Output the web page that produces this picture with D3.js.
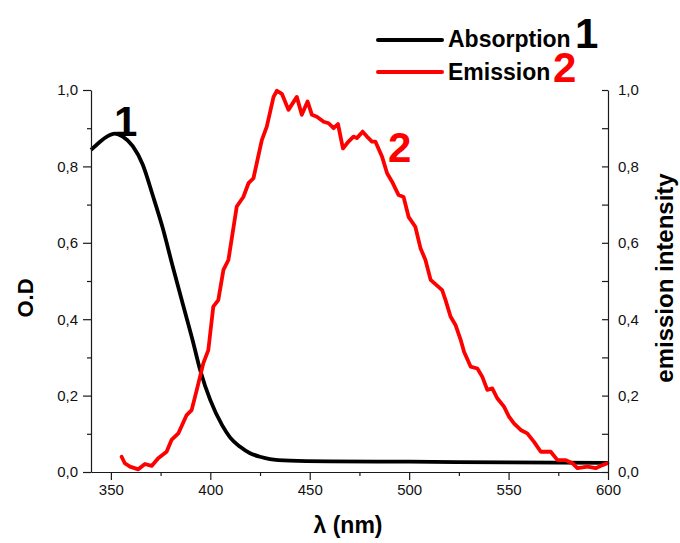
<!DOCTYPE html>
<html>
<head>
<meta charset="utf-8">
<script src="https://cdn.jsdelivr.net/npm/d3@7"></script>
<style>
  html, body { margin: 0; padding: 0; background: #fff; }
  svg { display: block; font-family: "Liberation Sans", Arial, sans-serif; }
</style>
</head>
<body>
<svg id="chart" width="680" height="543"></svg>
<script>
// ---- data ----
const absWavelength = [340, 344, 348, 352, 356, 361, 366, 371, 376, 381, 386, 391, 395, 400, 406, 410, 415, 420, 425, 430, 440, 460, 500, 550, 600];
const absValue      = [0.843, 0.862, 0.878, 0.886, 0.878, 0.853, 0.805, 0.725, 0.640, 0.540, 0.443, 0.347, 0.265, 0.188, 0.122, 0.090, 0.066, 0.049, 0.040, 0.034, 0.030, 0.028, 0.027, 0.025, 0.024];

const emWavelength = [355.4, 357, 359.6, 363.8, 367.1, 370.5, 373.8, 378, 380.5, 383.9, 388.1, 390.6, 393.2, 396.5, 399, 401.5, 404, 406.6, 409.1, 413.3, 416.6, 419.2, 421.7, 425.9, 428.4, 431.8, 433.5, 436, 439.3, 443.5, 446, 448.9, 451.1, 453.6, 457, 459.5, 462, 464.2, 466.7, 469.5, 472, 473.7, 476.6, 478.8, 481.3, 483, 486.4, 488.9, 491.4, 494.7, 497.2, 499.7, 503.1, 505.7, 508.2, 510.8, 513.2, 516.6, 518.3, 520.8, 523.3, 525.9, 527.6, 530.9, 534.3, 536.8, 539.3, 541.8, 544.3, 547.7, 550.2, 552.7, 556.1, 559.4, 562.8, 566.2, 571.2, 574.6, 578.8, 582.1, 584.6, 589.7, 593.8, 597.2, 599.7];
const emValue      = [0.040, 0.023, 0.014, 0.007, 0.021, 0.016, 0.036, 0.053, 0.084, 0.101, 0.149, 0.162, 0.215, 0.285, 0.319, 0.433, 0.450, 0.529, 0.555, 0.695, 0.720, 0.756, 0.769, 0.869, 0.904, 0.982, 0.998, 0.990, 0.948, 0.982, 0.935, 0.970, 0.935, 0.930, 0.917, 0.913, 0.900, 0.911, 0.847, 0.865, 0.878, 0.874, 0.891, 0.878, 0.865, 0.865, 0.825, 0.782, 0.760, 0.725, 0.720, 0.668, 0.642, 0.586, 0.555, 0.503, 0.492, 0.476, 0.450, 0.407, 0.385, 0.346, 0.315, 0.276, 0.271, 0.249, 0.215, 0.219, 0.193, 0.171, 0.145, 0.127, 0.110, 0.101, 0.079, 0.053, 0.053, 0.031, 0.031, 0.023, 0.010, 0.014, 0.010, 0.018, 0.023];

const xMajorTicks = [350, 400, 450, 500, 550, 600];
const xMinorTicks = [375, 425, 475, 525, 575];
const yMajorTicks = [0, 0.2, 0.4, 0.6, 0.8, 1.0];
const yMinorTicks = [0.1, 0.3, 0.5, 0.7, 0.9];

const xTitle = "λ (nm)";
const yLeftTitle = "O.D";
const yRightTitle = "emission intensity";
const legendLabels = ["Absorption", "Emission"];
const legendNumbers = ["1", "2"];
const seriesColors = ["#000000", "#ff0000"];

// ---- layout ----
const svg = d3.select("#chart");
const x = d3.scaleLinear().domain([340, 600]).range([91, 608]);
const yL = d3.scaleLinear().domain([0, 1]).range([472, 90]);
const yR = d3.scaleLinear().domain([0, 1]).range([472, 90]);
const fmt = d => d3.format(".1f")(d).replace(".", ",");

// curves
const absData = absWavelength.map((w, i) => [w, absValue[i]]);
const emData = emWavelength.map((w, i) => [w, emValue[i]]);

svg.append("path")
  .datum(absData)
  .attr("fill", "none")
  .attr("stroke", seriesColors[0])
  .attr("stroke-width", 3.8)
  .attr("stroke-linejoin", "round")
  .attr("d", d3.line().x(d => x(d[0])).y(d => yL(d[1])).curve(d3.curveMonotoneX));

svg.append("path")
  .datum(emData)
  .attr("fill", "none")
  .attr("stroke", seriesColors[1])
  .attr("stroke-width", 3.8)
  .attr("stroke-linejoin", "round")
  .attr("stroke-linecap", "round")
  .attr("d", d3.line().x(d => x(d[0])).y(d => yR(d[1])));

// axes
const axisColor = "#1a1a1a";
function styleAxis(g) {
  g.selectAll("path.domain").attr("stroke", axisColor).attr("stroke-width", 1.2);
  g.selectAll(".tick line").attr("stroke", axisColor).attr("stroke-width", 1.2);
  g.selectAll(".tick text").attr("fill", "#111").style("font-size", "15px")
    .style("font-family", "'Liberation Sans', Arial, sans-serif");
}

// bottom axis
const gx = svg.append("g").attr("transform", "translate(0,472)")
  .call(d3.axisBottom(x).tickValues(xMajorTicks).tickSize(8).tickSizeOuter(0).tickPadding(4));
styleAxis(gx);
svg.append("g").attr("transform", "translate(0,472)")
  .call(d3.axisBottom(x).tickValues(xMinorTicks).tickSize(4).tickSizeOuter(0).tickFormat(""))
  .call(styleAxis).select("path.domain").remove();

// left axis
const gyl = svg.append("g").attr("transform", "translate(91,0)")
  .call(d3.axisLeft(yL).tickValues(yMajorTicks).tickSize(8).tickSizeOuter(0).tickPadding(5).tickFormat(fmt));
styleAxis(gyl);
svg.append("g").attr("transform", "translate(91,0)")
  .call(d3.axisLeft(yL).tickValues(yMinorTicks).tickSize(4).tickSizeOuter(0).tickFormat(""))
  .call(styleAxis).select("path.domain").remove();

// right axis (ticks inward)
const gyr = svg.append("g").attr("transform", "translate(608,0)")
  .call(d3.axisRight(yR).tickValues(yMajorTicks).tickSize(0).tickSizeOuter(0).tickPadding(10).tickFormat(fmt));
styleAxis(gyr);
svg.append("g").attr("transform", "translate(608,0)")
  .call(d3.axisLeft(yR).tickValues(yMajorTicks.concat(yMinorTicks)).tickSize(6).tickSizeOuter(0).tickFormat(""))
  .call(styleAxis).select("path.domain").remove();

// titles
svg.append("text")
  .attr("x", 348).attr("y", 533)
  .attr("text-anchor", "middle")
  .style("font-size", "23px").style("font-weight", "bold")
  .text(xTitle);

svg.append("text")
  .attr("transform", "translate(33,298) rotate(-90)")
  .attr("text-anchor", "middle")
  .style("font-size", "22px").style("font-weight", "bold")
  .text(yLeftTitle);

svg.append("text")
  .attr("transform", "translate(673,278) rotate(-90)")
  .attr("text-anchor", "middle")
  .style("font-size", "24px").style("font-weight", "bold")
  .text(yRightTitle);

// curve labels
svg.append("text").attr("x", 114).attr("y", 136)
  .style("font-size", "42px").style("font-weight", "bold").attr("fill", seriesColors[0])
  .text(legendNumbers[0]);
svg.append("text").attr("x", 388).attr("y", 162)
  .style("font-size", "42px").style("font-weight", "bold").attr("fill", seriesColors[1])
  .text(legendNumbers[1]);

// legend
const legendRows = [
  { y: 40, label: legendLabels[0], num: legendNumbers[0], color: seriesColors[0], textY: 47, numX: 575, numY: 48 },
  { y: 72, label: legendLabels[1], num: legendNumbers[1], color: seriesColors[1], textY: 80, numX: 553, numY: 82 }
];
legendRows.forEach(r => {
  svg.append("line").attr("x1", 378).attr("x2", 442).attr("y1", r.y).attr("y2", r.y)
    .attr("stroke", r.color).attr("stroke-width", 4).attr("stroke-linecap", "round");
  svg.append("text").attr("x", 448).attr("y", r.textY)
    .style("font-size", "23px").style("font-weight", "bold").attr("fill", "#000")
    .text(r.label);
  svg.append("text").attr("x", r.numX).attr("y", r.numY)
    .style("font-size", "42px").style("font-weight", "bold").attr("fill", r.color)
    .text(r.num);
});
</script>
</body>
</html>
